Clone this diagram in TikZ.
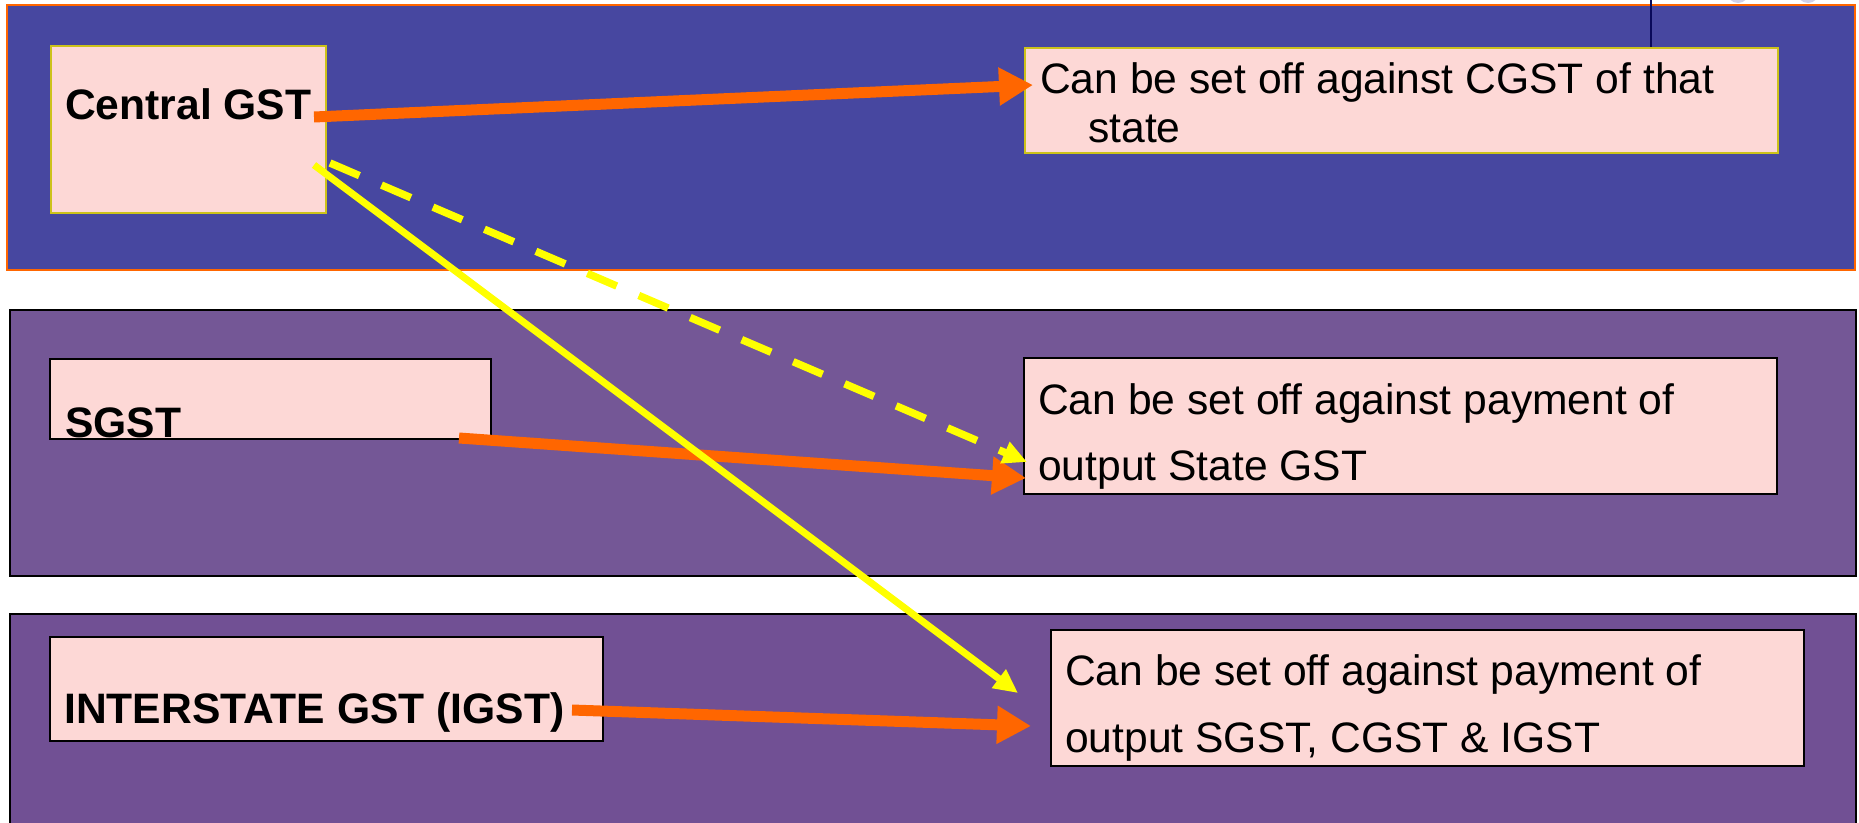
\documentclass[tikz,border=0pt]{standalone}
\usepackage{fontspec}
\setmainfont{Liberation Sans}
\usetikzlibrary{arrows.meta}

\definecolor{bandblue}{RGB}{71,71,160}
\definecolor{bandpurple}{RGB}{116,87,150}
\definecolor{bandpurpleb}{RGB}{113,80,148}
\definecolor{boxpink}{RGB}{253,216,214}
\definecolor{boxolive}{RGB}{204,194,26}
\definecolor{arrorange}{RGB}{255,102,0}
\definecolor{arryellow}{RGB}{255,255,0}
\definecolor{navyline}{RGB}{10,10,90}
\definecolor{dotgrey}{RGB}{208,208,230}

\begin{document}
\begin{tikzpicture}[x=1pt,y=-1pt,
  band/.style={draw, line width=2pt, inner sep=0pt, anchor=north west},
  box/.style={draw, line width=2pt, fill=boxpink, inner sep=0pt, anchor=north west},
  txt/.style={inner sep=0pt, anchor=base west, font=\fontsize{42.6}{50}\selectfont},
  btxt/.style={txt, font=\fontsize{42.6}{50}\selectfont\bfseries},
  orangearrow/.style={draw=arrorange, line width=11pt,
    -{Triangle[length=34pt, width=36pt]}, arrorange},
  yellowarrow/.style={draw=arryellow, line width=7pt,
    -{Triangle[length=24pt, width=22pt]}, arryellow},
]
\useasboundingbox (0,0) rectangle (1859,822);
\clip (0,0) rectangle (1859,822);
\fill[white] (0,0) rectangle (1859,822);

% small marks peeking in at the top edge
\fill[dotgrey] (1738,-8) circle (11);
\fill[dotgrey] (1808,-8) circle (11);

% three horizontal bands
\node[band, draw=arrorange, fill=bandblue, minimum width=1848pt, minimum height=265pt]
  (bandC) at (6,4) {};
\node[band, draw=black, fill=bandpurple, minimum width=1846pt, minimum height=266pt]
  (bandS) at (9,309) {};
\node[band, draw=black, fill=bandpurpleb, minimum width=1846pt, minimum height=240pt]
  (bandI) at (9,613) {};

\draw[navyline, line width=1.3pt] (1651,0) -- (1651,47);

% boxes on the left
\node[box, draw=boxolive, minimum width=275pt, minimum height=167pt] (cgst) at (50,45) {};
\node[box, draw=black, minimum width=441pt, minimum height=80pt] (sgst) at (49,358) {};
\node[box, draw=black, minimum width=553pt, minimum height=104pt] (igst) at (49,636) {};

% boxes on the right
\node[box, draw=boxolive, minimum width=753pt, minimum height=105pt] (cgstTo) at (1024,47) {};
\node[box, draw=black, minimum width=753pt, minimum height=136pt] (sgstTo) at (1023,357) {};
\node[box, draw=black, minimum width=753pt, minimum height=136pt] (igstTo) at (1050,629) {};

% texts
\node[btxt] (cgstLbl) at (65,119) {Central GST};
\node[btxt] (sgstLbl) at (65,437) {SGST};
\node[btxt] (igstLbl) at (64,723) {INTERSTATE GST (IGST)};

\node[txt] (cgstToA) at (1040,93) {Can be set off against CGST of that};
\node[txt] (cgstToB) at (1088,142) {state};
\node[txt] (sgstToA) at (1038,414) {Can be set off against payment of};
\node[txt] (sgstToB) at (1038,480) {output State GST};
\node[txt] (igstToA) at (1065,685) {Can be set off against payment of};
\node[txt] (igstToB) at (1065,752) {output SGST, CGST \& IGST};

% connector end points
\coordinate (cOut) at (314,117);
\coordinate (cIn) at (1033,85);
\coordinate (sOut) at (459,438);
\coordinate (sIn) at (1026,478);
\coordinate (iOut) at (572,710);
\coordinate (iIn) at (1031,726);
\coordinate (cOutI) at (314,165);
\coordinate (iInC) at (1018,693);
\coordinate (cOutS) at (330,163);
\coordinate (sInC) at (1027,462);

% orange arrows: each tax to its own set-off
\draw[orangearrow] (cOut) -- (cIn);
\draw[orangearrow] (sOut) -- (sIn);
\draw[orangearrow] (iOut) -- (iIn);

% yellow arrows from Central GST
\draw[yellowarrow] (cOutI) -- (iInC);
\draw[yellowarrow, line width=7.5pt, dash pattern=on 32pt off 24pt] (cOutS) -- (sInC);
\end{tikzpicture}
\end{document}
